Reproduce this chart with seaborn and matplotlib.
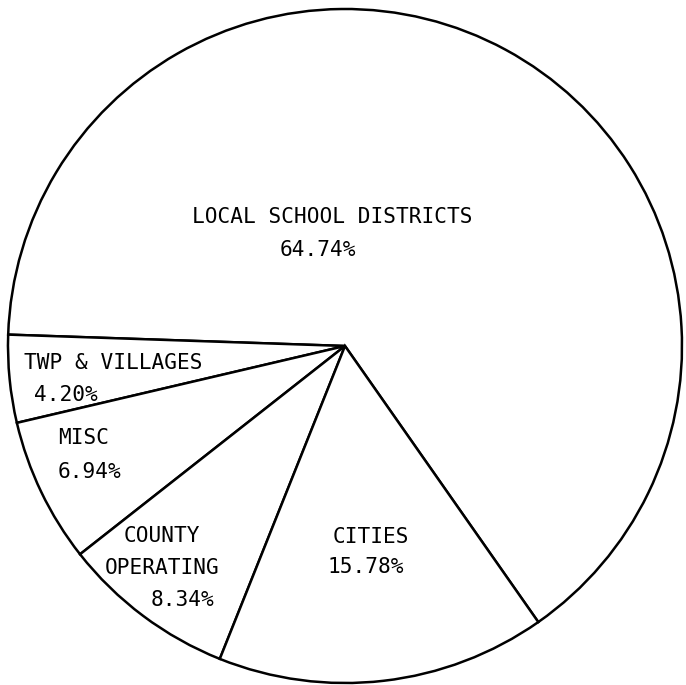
import matplotlib
matplotlib.use("Agg")
import matplotlib.pyplot as plt
import seaborn as sns

sns.set_theme(style="white")
plt.rcParams['font.family'] = ['DejaVu Sans Mono', 'DejaVu Sans']

categories = ["LOCAL SCHOOL DISTRICTS", "TWP & VILLAGES", "MISC", "COUNTY\nOPERATING", "CITIES"]
shares = [64.74, 4.20, 6.94, 8.34, 15.78]
share_labels = ["64.74%", "4.20%", "6.94%", "8.34%", "15.78%"]

# label anchor positions in figure pixels (name, value)
name_pos = [(332, 217), (113, 363), (84, 438), (162, 552), (371, 537)]
value_pos = [(318, 250), (66, 395), (90, 472), (182, 600), (366, 567)]

W, H = 686, 685
cx, cy, R = 345, 346, 337

fig = plt.figure(figsize=(W / 100, H / 100), dpi=100)
ax = fig.add_axes([0, 0, 1, 1])
ax.pie(shares, startangle=-55, counterclock=True, radius=1,
       colors=["white"] * len(shares),
       wedgeprops=dict(edgecolor="black", linewidth=1.8))
ax.set_xlim(-cx / R, (W - cx) / R)
ax.set_ylim(-(H - cy) / R, cy / R)
ax.set_aspect("auto")
ax.axis("off")

for i, name in enumerate(categories):
    nx, ny = name_pos[i]
    ax.text(nx / W, 1 - ny / H, name, transform=ax.transAxes, ha="center", va="center",
            fontsize=15.2, color="black", linespacing=1.75)
    vx, vy = value_pos[i]
    ax.text(vx / W, 1 - vy / H, share_labels[i], transform=ax.transAxes, ha="center", va="center",
            fontsize=15.2, color="black")

fig.savefig("out.png", dpi=100, facecolor="white")
